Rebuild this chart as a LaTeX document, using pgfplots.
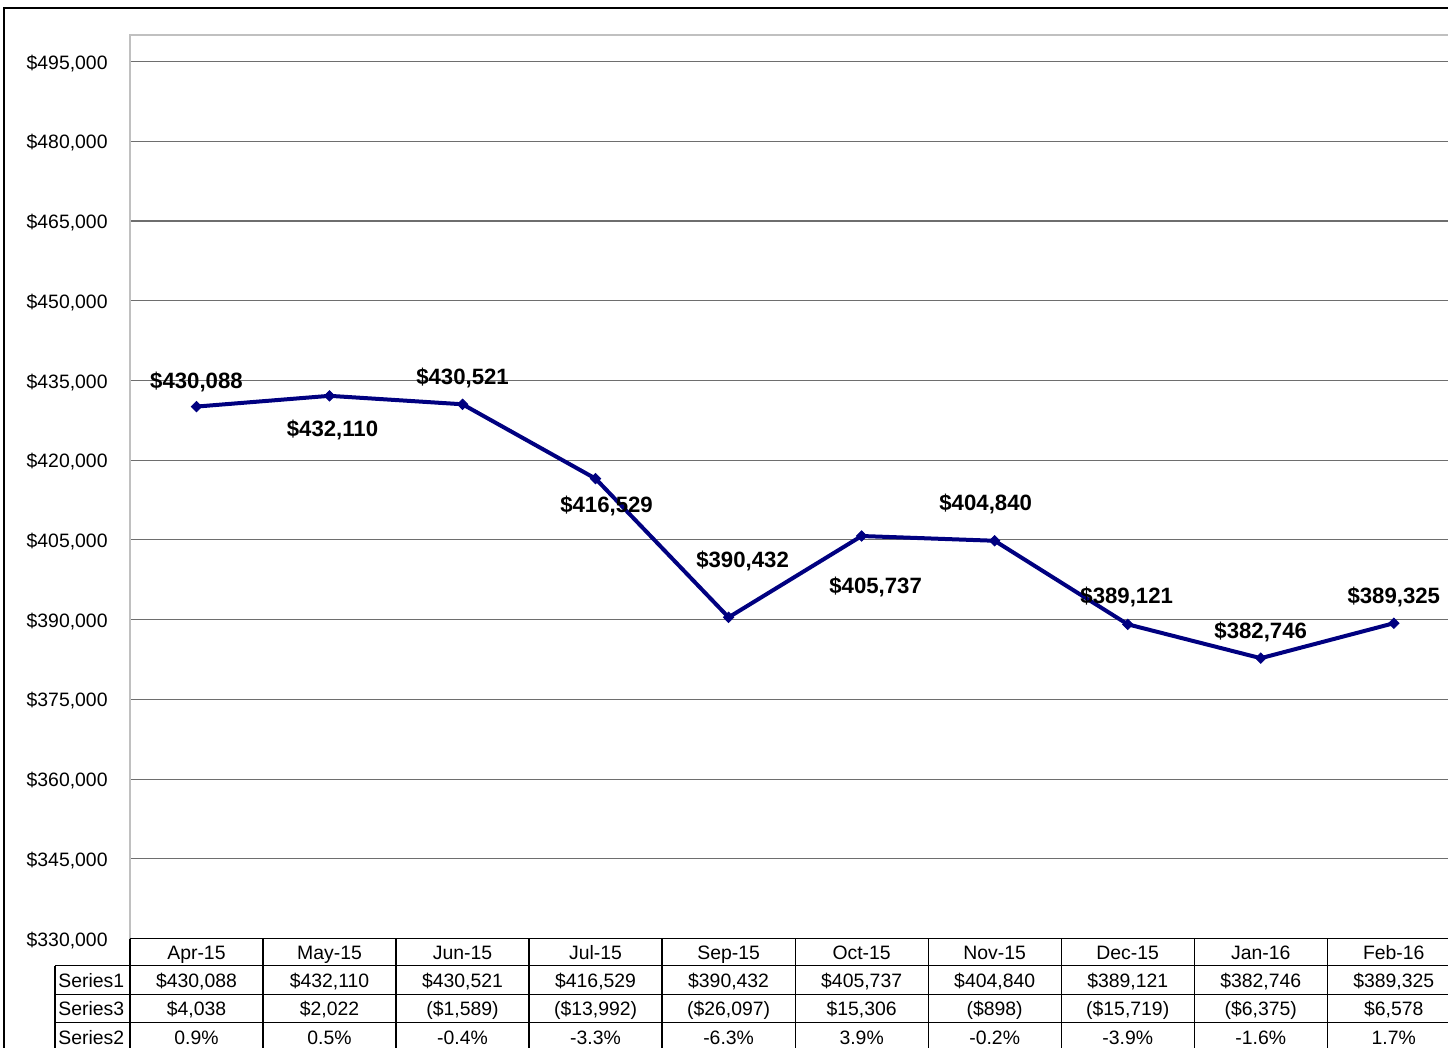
\documentclass[border=0pt]{standalone}
\usepackage{pgfplots}
\pgfplotsset{compat=1.18}
\usepackage{pgfplotstable}
\usepackage{fontspec}
\setmainfont{Liberation Sans}
\definecolor{navyline}{HTML}{000080}
\definecolor{gridc}{HTML}{6E6E6E}
\definecolor{framec}{HTML}{C0C0C0}

\pgfplotstableread{
x y lab dx dy
0 430088 430,088 0 12.5
1 432110 432,110 1.5 -17
2 430521 430,521 0 13
3 416529 416,529 5.5 -13.5
4 390432 390,432 7 28
5 405737 405,737 7 -25.5
6 404840 404,840 -4.5 18.5
7 389121 389,121 -0.5 13.5
8 382746 382,746 0 13
9 389325 389,325 0 13
}\datatable

\begin{document}
\begin{tikzpicture}
\begin{scope}[x=0.5pt,y=-0.5pt]
\useasboundingbox (0,0) rectangle (1449,1048);
\fill[white] (0,0) rectangle (1449,1048);
\draw[black, line width=0.6pt] (4,1048) -- (4,8) -- (1449,8);
\end{scope}
\begin{axis}[
  at={(65pt,-469.5pt)}, anchor=south west,
  scale only axis, width=659.5pt, height=452pt,
  xmin=-0.5, xmax=9.41, ymin=330000, ymax=500000,
  xtick=\empty,
  ytick={330000,345000,360000,375000,390000,405000,420000,435000,450000,465000,480000,495000},
  scaled y ticks=false,
  major tick length=0pt,
  ymajorgrids, grid style={gridc, line width=0.55pt},
  axis line style={draw=none},
  /pgf/number format/assume math mode=true,
  ticklabel style={font=\fontsize{9.7}{11}\selectfont},
  yticklabel style={inner sep=0pt, xshift=-11pt, yshift=-0.8pt},
  yticklabel={\$\pgfmathprintnumber[fixed,precision=0,1000 sep={,}]{\tick}},
  clip=false,
]
\addplot[navyline, line width=2pt, mark=diamond*, mark size=2.6pt,
  mark options={fill=navyline, draw=navyline, line width=0.4pt, xscale=1.33},
  point meta=explicit symbolic,
  nodes near coords={\$\pgfplotspointmeta},
  visualization depends on={\thisrow{dx} \as \dx},
  visualization depends on={\thisrow{dy} \as \dy},
  every node near coord/.append style={anchor=center, inner sep=0pt, text=black,
    font=\fontsize{11.1}{13}\selectfont\bfseries, xshift=\dx pt, yshift=\dy pt}
] table[x=x, y=y, meta=lab] {\datatable};
\end{axis}
\begin{scope}[x=0.5pt,y=-0.5pt]
\draw[framec, line width=0.6pt] (130,939) -- (130,35) -- (1449,35);
\draw[black, line width=0.7pt] (130,939) -- (1449,939);
\foreach \yy in {966,995,1023} \draw[black, line width=0.6pt] (55,\yy) -- (1449,\yy);
\draw[black, line width=0.6pt] (55,966) -- (55,1048);
\foreach \k in {0,...,9} \draw[black, line width=0.6pt] ({130+133.1*\k},939) -- ({130+133.1*\k},1048);
\begin{scope}[every node/.style={font=\fontsize{9.7}{11}\selectfont, inner sep=0pt, text height=7pt, text depth=2pt}]
\node[anchor=west] at (58,982.5) {Series1};
\node[anchor=west] at (58,1011) {Series3};
\node[anchor=west] at (58,1039.5) {Series2};
\foreach \i/\c/\a/\b/\d in {
 0/Apr-15/{\$430,088}/{\$4,038}/{0.9\%},
 1/May-15/{\$432,110}/{\$2,022}/{0.5\%},
 2/Jun-15/{\$430,521}/{(\$1,589)}/{-0.4\%},
 3/Jul-15/{\$416,529}/{(\$13,992)}/{-3.3\%},
 4/Sep-15/{\$390,432}/{(\$26,097)}/{-6.3\%},
 5/Oct-15/{\$405,737}/{\$15,306}/{3.9\%},
 6/Nov-15/{\$404,840}/{(\$898)}/{-0.2\%},
 7/Dec-15/{\$389,121}/{(\$15,719)}/{-3.9\%},
 8/Jan-16/{\$382,746}/{(\$6,375)}/{-1.6\%},
 9/Feb-16/{\$389,325}/{\$6,578}/{1.7\%}}{
  \node at ({130+133.1*(\i+0.5)},954.5) {\c};
  \node at ({130+133.1*(\i+0.5)},982.5) {\a};
  \node at ({130+133.1*(\i+0.5)},1011) {\b};
  \node at ({130+133.1*(\i+0.5)},1039.5) {\d};
}
\end{scope}
\end{scope}
\end{tikzpicture}
\end{document}
